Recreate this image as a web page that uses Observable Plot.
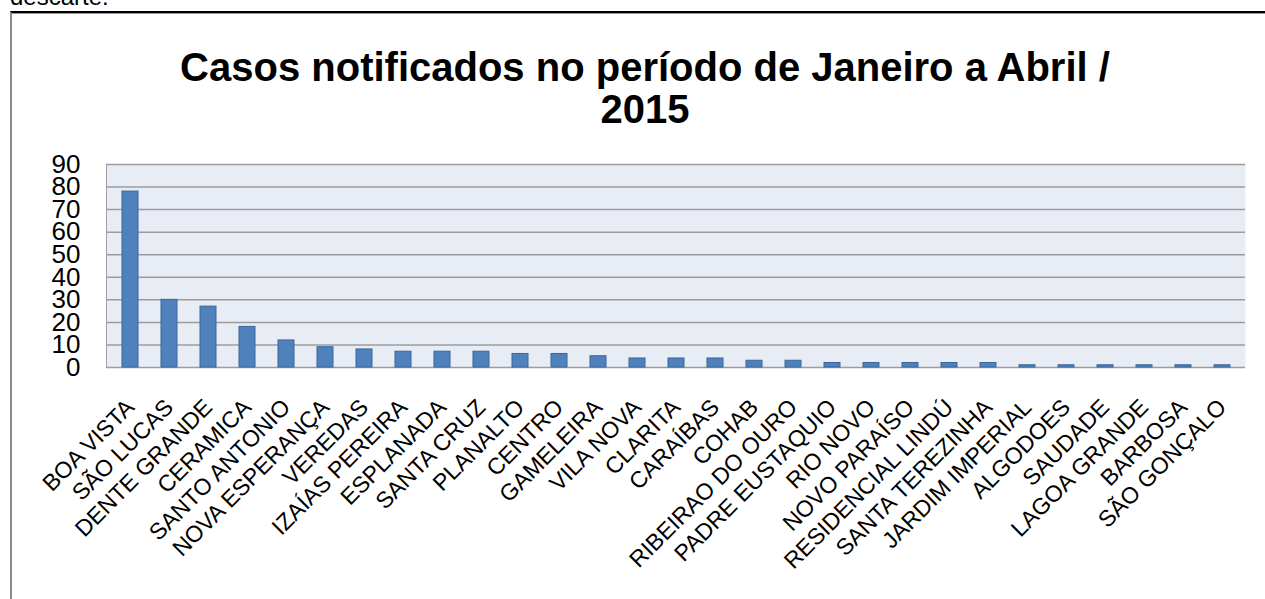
<!DOCTYPE html>
<html>
<head>
<meta charset="utf-8">
<script src="https://cdn.jsdelivr.net/npm/d3@7"></script>
<script src="https://cdn.jsdelivr.net/npm/@observablehq/plot@0.6"></script>
<style>
  html, body { margin: 0; padding: 0; background: #fff; overflow: hidden; }
  body { width: 1265px; height: 599px; position: relative; font-family: "Liberation Sans", Arial, sans-serif; }
  #above { position: absolute; left: 10px; top: -15px; font-size: 24px; line-height: 24px; color: #000; }
  #frame { position: absolute; left: 10px; top: 11px; width: 1270px; height: 600px;
           border-top: 2px solid #000; border-left: 2px solid #8a8a8a; box-sizing: border-box; }
  #frameline { position: absolute; left: 12px; top: 13px; width: 1260px; height: 1px; background: #9a9a9a; }
  #title { position: absolute; left: 0; top: 46px; width: 1290px; text-align: center;
           font-weight: bold; font-size: 40px; line-height: 42px; color: #000; }
  #chart { position: absolute; left: 0; top: 140px; }
</style>
</head>
<body>
<div id="above">descarte.</div>
<div id="frame"></div>
<div id="frameline"></div>
<div id="title">Casos notificados no período de Janeiro a Abril /<br>2015</div>
<div id="chart"></div>
<script>
const categories = ["BOA VISTA", "SÃO LUCAS", "DENTE GRANDE", "CERAMICA", "SANTO ANTONIO",
  "NOVA ESPERANÇA", "VEREDAS", "IZAÍAS PEREIRA", "ESPLANADA", "SANTA CRUZ", "PLANALTO",
  "CENTRO", "GAMELEIRA", "VILA NOVA", "CLARITA", "CARAÍBAS", "COHAB", "RIBEIRAO DO OURO",
  "PADRE EUSTAQUIO", "RIO NOVO", "NOVO PARAÍSO", "RESIDENCIAL LINDÚ", "SANTA TEREZINHA",
  "JARDIM IMPERIAL", "ALGODOES", "SAUDADE", "LAGOA GRANDE", "BARBOSA", "SÃO GONÇALO"];
const values = [78, 30, 27, 18, 12, 9, 8, 7, 7, 7, 6, 6, 5, 4, 4, 4, 3, 3, 2, 2, 2, 2, 2, 1, 1, 1, 1, 1, 1];
const yTicks = [0, 10, 20, 30, 40, 50, 60, 70, 80, 90];

const data = categories.map((name, i) => ({name, value: values[i]}));

const chart = Plot.plot({
  width: 1265,
  height: 460,
  marginLeft: 106,
  marginRight: 20,
  marginTop: 24,
  marginBottom: 233,
  style: {fontFamily: "'Liberation Sans', Arial, sans-serif", background: "transparent", color: "#000", overflow: "visible"},
  x: {domain: categories, paddingInner: 0.6, paddingOuter: 0.3, axis: null},
  y: {domain: [0, 90], axis: null},
  marks: [
    Plot.frame({fill: "#E8EDF5", stroke: null}),
    Plot.ruleY(yTicks, {stroke: "#9c9c9c", strokeWidth: 1.5}),
    Plot.frame({anchor: "left", stroke: "#a0a0a0", strokeWidth: 1}),
    Plot.barY(data, {x: "name", y: "value", fill: "#4F81BD", stroke: "#3B679A", strokeWidth: 1}),
    Plot.axisY({ticks: yTicks, tickSize: 0, tickPadding: 26, fontSize: 26, label: null, tickFormat: d => String(d)}),
    Plot.text(data, {x: "name", y: () => 0, text: "name", rotate: -45, textAnchor: "end",
      lineAnchor: "middle", dx: 0, dy: 36, fontSize: 23, fill: "#000"})
  ]
});
document.getElementById("chart").appendChild(chart);
</script>
</body>
</html>
